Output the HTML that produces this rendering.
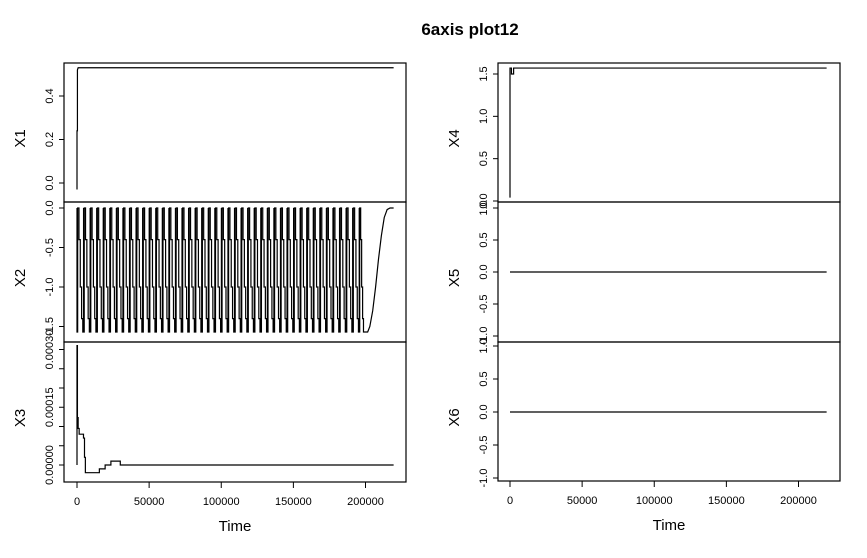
<!DOCTYPE html>
<html><head><meta charset="utf-8"><style>
body{margin:0;background:#fff;}
svg{display:block;font-family:"Liberation Sans",Arial,sans-serif;}
</style></head><body>
<svg id="c" width="867" height="558" viewBox="0 0 867 558">
<text x="470" y="35" text-anchor="middle" font-size="17" font-weight="bold">6axis plot12</text>
</svg>
<script>
// ---- data ----
const x1Times=[0,0,300,300,800,219500];
const x1Vals=[-0.03,0.24,0.24,0.52,0.53,0.53];
const x2CycleStarts=[0,4550,9100,13650,18200,22750,27300,31850,36400,40950,45500,50050,54600,59150,63700,68250,72800,77350,81900,86450,91000,95550,100100,104650,109200,113750,118300,122850,127400,131950,136500,141050,145600,150150,154700,159250,163800,168350,172900,177450,182000,186550,191100,195650];
const x2PatternLevels=[0,-1.57,-1.57,0,0,-0.4,-0.4,-1.0,-1.0,-1.4,-1.4,-1.57,-1.57];
const x2PatternFrac=[0,0,0.1,0.1,0.3,0.3,0.5,0.5,0.7,0.7,0.88,0.88,1];
const x2TailTimes=[199000,201500,203000,205000,207000,209000,211000,213000,215000,217000,219500];
const x2TailVals=[-1.57,-1.57,-1.5,-1.3,-1.0,-0.65,-0.35,-0.12,-0.02,0,0];
const x3Times=[0,0,300,300,800,800,1500,1500,4500,4500,5200,5200,5800,5800,15500,15500,19500,19500,23500,23500,30000,30000,219500];
const x3Vals=[0,0.00031,0.00031,0.000123,0.000123,0.000095,0.000095,0.00008,0.00008,0.00007,0.00007,0.00002,0.00002,-0.00002,-0.00002,-0.00001,-0.00001,0,0,0.00001,0.00001,0,0];
const x4Times=[0,0,1000,1000,2500,2500,219500];
const x4Vals=[0.04,1.57,1.57,1.5,1.5,1.57,1.57];
const x5Times=[0,219500];
const x5Vals=[0,0];
const x6Times=[0,219500];
const x6Vals=[0,0];
const timeTicks=[0,50000,100000,150000,200000];
const x1Ticks=[0.0,0.2,0.4];
const x1TickLabels=["0.0","0.2","0.4"];
const x2Ticks=[0.0,-0.5,-1.0,-1.5];
const x2TickLabels=["0.0","-0.5","-1.0","-1.5"];
const x3Ticks=[0,0.00005,0.0001,0.00015,0.0002,0.00025,0.0003];
const x3TickLabels=["0.00000","","","0.00015","","","0.00030"];
const x4Ticks=[0,0.5,1.0,1.5];
const x4TickLabels=["0.0","0.5","1.0","1.5"];
const x56Ticks=[-1,-0.5,0,0.5,1];
const x56TickLabels=["-1.0","-0.5","0.0","0.5","1.0"];

const svg=document.getElementById('c');
const NS='http://www.w3.org/2000/svg';
function mk(t,a){const e=document.createElementNS(NS,t);for(const k in a)e.setAttribute(k,a[k]);svg.appendChild(e);return e;}
function xScale(x0){return t=>x0+t*(288.5/200000);}
function yScale(y0,v0,y1,v1){return v=>y0+(v-v0)*(y1-y0)/(v1-v0);}

function panel(name,fx0,fx1,fy0,fy1,x0,ys,ticks,labels,title,times,vals,showX){
  const sx=xScale(x0);
  let r=mk('rect',{x:fx0,y:fy0,width:fx1-fx0,height:fy1-fy0,fill:'none',stroke:'#000','stroke-width':1.2});
  
  ticks.forEach((v,i)=>{
    const y=ys(v);
    let l=mk('line',{x1:fx0-5,x2:fx0,y1:y,y2:y,stroke:'#000'});
    
    if(labels[i]){
      let t=mk('text',{x:0,y:0,'font-size':11,'text-anchor':'middle',transform:`translate(${fx0-11},${y}) rotate(-90)`});
      t.textContent=labels[i];
      
    }
  });
  let tt=mk('text',{x:0,y:0,'font-size':15,'text-anchor':'middle',transform:`translate(${fx0-39},${(fy0+fy1)/2+6}) rotate(-90)`});
  tt.textContent=title;
  let d='';
  times.forEach((t,i)=>{d+=(i?'L':'M')+sx(t).toFixed(2)+' '+ys(vals[i]).toFixed(2);});
  let p=mk('path',{d:d,fill:'none',stroke:'#000','stroke-width':1.2});
  
  if(showX){
    let ax=mk('line',{x1:sx(timeTicks[0]),x2:sx(timeTicks[timeTicks.length-1]),y1:fy1,y2:fy1,stroke:'#000'});
    
    timeTicks.forEach(t=>{
      let l=mk('line',{x1:sx(t),x2:sx(t),y1:fy1,y2:fy1+6,stroke:'#000'});
      
      let tx=mk('text',{x:sx(t),y:fy1+23,'font-size':11,'text-anchor':'middle'});
      tx.textContent=String(t);
    });
    let xt=mk('text',{x:(fx0+fx1)/2,y:fy1+49,'font-size':15,'text-anchor':'middle'});
    xt.textContent='Time';
  }
}
const x2Times=[],x2Vals=[];
x2CycleStarts.forEach((s,i)=>{
  const period=(i+1<x2CycleStarts.length?x2CycleStarts[i+1]:x2TailTimes[0])-s;
  x2PatternLevels.forEach((v,j)=>{x2Times.push(s+x2PatternFrac[j]*period);x2Vals.push(v);});
});
x2TailTimes.forEach((t,i)=>{x2Times.push(t);x2Vals.push(x2TailVals[i]);});

panel('x1-panel',64,406,63,202,77,yScale(183,0,96,0.4),x1Ticks,x1TickLabels,'X1',x1Times,x1Vals,false);
panel('x2-panel',64,406,202,342,77,yScale(208,0,287,-1),x2Ticks,x2TickLabels,'X2',x2Times,x2Vals,false);
panel('x3-panel',64,406,342,482,77,yScale(465,0,388,0.0002),x3Ticks,x3TickLabels,'X3',x3Times,x3Vals,true);
panel('x4-panel',498,840,63,202,510,yScale(201,0,74,1.5),x4Ticks,x4TickLabels,'X4',x4Times,x4Vals,false);
panel('x5-panel',498,840,202,342,510,yScale(272,0,208,1),x56Ticks,x56TickLabels,'X5',x5Times,x5Vals,false);
panel('x6-panel',498,840,342,481,510,yScale(412,0,346,1),x56Ticks,x56TickLabels,'X6',x6Times,x6Vals,true);
</script>
</body></html>
